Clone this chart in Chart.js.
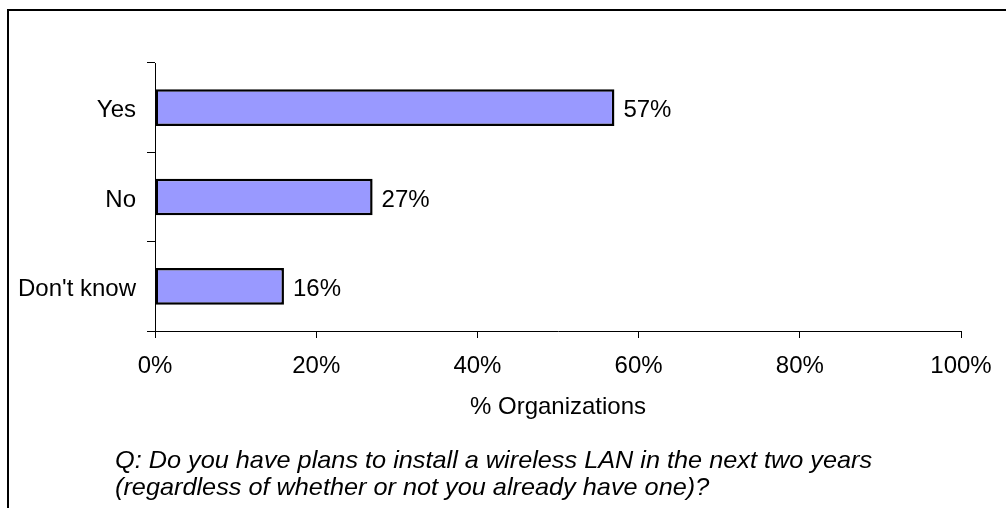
<!DOCTYPE html>
<html lang="en">
<head>
  <meta charset="UTF-8">
  <title>Wireless LAN plans</title>
  <style>
    body {
      margin: 0;
      background: white;
      font-family: "Liberation Sans", Arial, sans-serif;
    }
    #wrap {
      position: relative;
      width: 1006px;
      height: 508px;
      overflow: hidden;
    }
    #frame {
      position: absolute;
      left: 7px;
      top: 9px;
      width: 1100px;
      height: 600px;
      border-top: 2px solid black;
      border-left: 2px solid black;
    }
    #question {
      position: absolute;
      left: 115px;
      top: 446px;
      font-size: 24px;
      font-style: italic;
      line-height: 27px;
      color: black;
      white-space: nowrap;
      transform: scaleX(1.053);
      transform-origin: left top;
    }
    canvas {
      position: absolute;
      left: 0;
      top: 0;
    }
  </style>
</head>
<body>
  <div id="wrap">
    <div id="frame"></div>
    <canvas id="chart" width="1006" height="508"></canvas>
    <div id="question">Q: Do you have plans to install a wireless LAN in the next two years<br>(regardless of whether or not you already have one)?</div>
  </div>

  <script src="https://cdn.jsdelivr.net/npm/chart.js"></script>
  <script>
    const answers = ["Yes", "No", "Don't know"];
    const shares = [57, 27, 16];
    const pctTicks = [0, 20, 40, 60, 80, 100];

    const labelFont = { family: "'Liberation Sans', Arial, sans-serif", size: 24 };

    // writes "57%" etc. just right of each bar
    const valueLabels = {
      id: 'valueLabels',
      afterDatasetsDraw(chart) {
        const ctx = chart.ctx;
        const meta = chart.getDatasetMeta(0);
        ctx.save();
        ctx.font = "24px 'Liberation Sans', Arial, sans-serif";
        ctx.fillStyle = 'black';
        ctx.textAlign = 'left';
        ctx.textBaseline = 'middle';
        meta.data.forEach((bar, i) => {
          ctx.fillText(shares[i] + '%', bar.x + 9, bar.y + 3);
        });
        ctx.restore();
      }
    };

    new Chart(document.getElementById('chart'), {
      type: 'bar',
      data: {
        labels: answers,
        datasets: [{
          data: shares,
          backgroundColor: '#9999FF',
          borderColor: 'black',
          borderWidth: 2.5,
          borderSkipped: false,
          categoryPercentage: 1,
          barPercentage: 0.41
        }]
      },
      options: {
        indexAxis: 'y',
        responsive: false,
        animation: false,
        layout: {
          padding: { top: 63, right: 45, left: 0, bottom: 86 }
        },
        plugins: {
          legend: { display: false },
          tooltip: { enabled: false }
        },
        scales: {
          y: {
            afterFit(scale) { scale.width = 155; },
            grid: {
              drawOnChartArea: false,
              offset: true,
              color: 'black',
              tickLength: 8
            },
            border: { color: 'black', width: 1 },
            ticks: {
              color: 'black',
              font: labelFont,
              padding: 11,
              labelOffset: 3
            }
          },
          x: {
            min: 0,
            max: 100,
            afterFit(scale) { scale.height = 91; },
            afterBuildTicks(scale) {
              scale.ticks = pctTicks.map(v => ({ value: v }));
            },
            grid: {
              drawOnChartArea: false,
              color: 'black',
              tickLength: 7
            },
            border: { color: 'black', width: 1 },
            ticks: {
              color: 'black',
              font: labelFont,
              padding: 14,
              callback: v => v + '%'
            },
            title: {
              display: true,
              text: '% Organizations',
              color: 'black',
              font: labelFont,
              padding: { top: 0, bottom: 0 }
            }
          }
        }
      },
      plugins: [valueLabels]
    });
  </script>
</body>
</html>
